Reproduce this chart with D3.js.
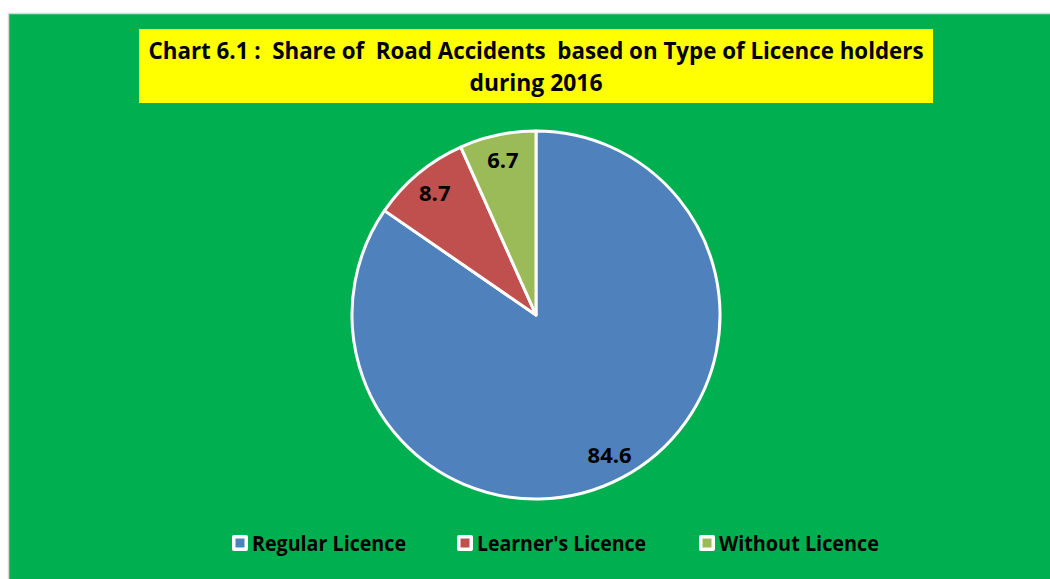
<!DOCTYPE html>
<html>
<head>
<meta charset="utf-8">
<script src="https://cdn.jsdelivr.net/npm/d3@7"></script>
<style>
    body { margin: 0; background: #fff; }
    svg { display: block; font-family: "Liberation Sans Narrow", "Open Sans", sans-serif; font-weight: bold; }
    text { white-space: pre; }
</style>
</head>
<body>
<div id="chart"></div>
<script>
var categories = ["Regular Licence", "Learner's Licence", "Without Licence"];
var shares = [84.6, 8.7, 6.7];
var colors = ["#4F81BD", "#C0504D", "#9BBB59"];
var titleLines = ["Chart 6.1 :  Share of  Road Accidents  based on Type of Licence holders", "during 2016"];

var width = 1050,
    height = 579;

var svg = d3.select("#chart").append("svg")
    .attr("width", width)
    .attr("height", height);

// green chart area
svg.append("rect")
    .attr("x", 8.5)
    .attr("y", 13.5)
    .attr("width", width)
    .attr("height", height)
    .style("fill", "#00B050")
    .style("stroke", "#d9d9d9")
    .style("stroke-width", 1.5);

// title box
svg.append("rect")
    .attr("x", 139)
    .attr("y", 29)
    .attr("width", 794)
    .attr("height", 74)
    .style("fill", "#FFFF00");

var titleWidths = [775, 133];
svg.selectAll(".title")
    .data(titleLines)
    .enter().append("text")
    .attr("class", "title")
    .attr("x", 536)
    .attr("y", function(d, i) { return 59 + i * 32; })
    .attr("text-anchor", "middle")
    .attr("textLength", function(d, i) { return titleWidths[i]; })
    .attr("lengthAdjust", "spacingAndGlyphs")
    .style("font-size", "23px")
    .style("fill", "#000")
    .text(function(d) { return d; });

var data = categories.map(function(c, i) {
    return { name: c, value: shares[i], color: colors[i] };
});

var cx = 536, cy = 315, r = 184;

var pie = d3.pie()
    .sort(null)
    .value(function(d) { return d.value; });

var arc = d3.arc()
    .innerRadius(0)
    .outerRadius(r);

var labelArc = d3.arc()
    .innerRadius(r * 0.86)
    .outerRadius(r * 0.86);

var g = svg.append("g")
    .attr("transform", "translate(" + cx + "," + cy + ")");

var slices = pie(data);

g.selectAll("path")
    .data(slices)
    .enter().append("path")
    .attr("d", arc)
    .style("fill", function(d) { return d.data.color; })
    .style("stroke", "#fff")
    .style("stroke-width", 3)
    .style("stroke-linejoin", "round");

g.selectAll(".lbl")
    .data(slices)
    .enter().append("text")
    .attr("class", "lbl")
    .attr("transform", function(d) {
        return "translate(" + labelArc.centroid(d) + ")";
    })
    .attr("text-anchor", "middle")
    .attr("dy", "0.35em")
    .style("font-size", "22px")
    .style("fill", "#000")
    .text(function(d) { return d.data.value.toFixed(1); });

// legend
var legendX = [232, 457, 699],
    legendW = [154, 169, 160];

var legend = svg.selectAll(".legend")
    .data(data)
    .enter().append("g")
    .attr("class", "legend")
    .attr("transform", function(d, i) { return "translate(" + legendX[i] + ",543)"; });

legend.append("rect")
    .attr("x", 0)
    .attr("y", -8)
    .attr("width", 16)
    .attr("height", 16)
    .attr("rx", 2)
    .style("fill", "#fff");

legend.append("rect")
    .attr("x", 3.5)
    .attr("y", -4.5)
    .attr("width", 9)
    .attr("height", 9)
    .style("fill", function(d) { return d.color; });

legend.append("text")
    .attr("x", 20)
    .attr("dy", "0.35em")
    .attr("textLength", function(d, i) { return legendW[i]; })
    .attr("lengthAdjust", "spacingAndGlyphs")
    .style("font-size", "22px")
    .style("fill", "#000")
    .text(function(d) { return d.name; });
</script>
</body>
</html>
